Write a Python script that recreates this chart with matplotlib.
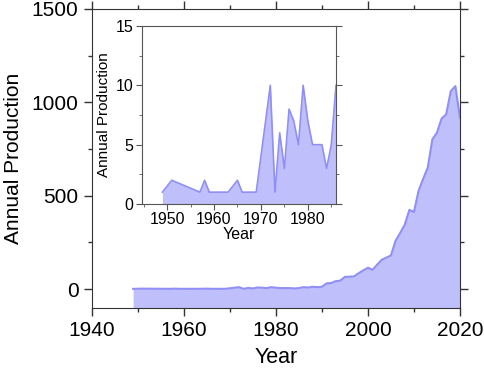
import matplotlib
matplotlib.use("Agg")
from matplotlib import pyplot as plt
from matplotlib.ticker import MultipleLocator

plt.rcParams['font.family'] = ['Liberation Sans', 'DejaVu Sans']

# yearly production, 1949-1986 (shown in the inset too)
early_years = [1949, 1951, 1957, 1958, 1959, 1963, 1965, 1966, 1969, 1972, 1973,
               1974, 1975, 1976, 1977, 1978, 1979, 1980, 1981, 1983, 1984, 1985, 1986]
early_prod = [1, 2, 1, 2, 1, 1, 2, 1, 1, 10, 1,
              6, 3, 8, 7, 5, 10, 7, 5, 5, 3, 5, 10]

# 1987-2020
late_years = list(range(1987, 2021))
late_prod = [8, 12, 10, 12, 30, 32, 42, 45, 65, 66, 68, 85, 100, 114, 103, 130,
             157, 168, 180, 258, 300, 345, 424, 413, 526, 590, 651, 802, 838,
             913, 936, 1060, 1087, 918]

years = early_years + late_years
prod = early_prod + late_prod

fill_col = '#bfbffb'
line_col = '#8f8ff5'

fig = plt.figure(figsize=(4.84, 3.70), dpi=100)
ax = fig.add_axes([0.1895, 0.1684, 0.7609, 0.8073])
ax.fill_between(years, prod, -100, color=fill_col, lw=0)
ax.plot(years, prod, color=line_col, lw=1.5)
ax.set_xlim(1940, 2020)
ax.set_ylim(-100, 1500)
ax.xaxis.set_major_locator(MultipleLocator(20))
ax.xaxis.set_minor_locator(MultipleLocator(10))
ax.yaxis.set_major_locator(MultipleLocator(500))
ax.yaxis.set_minor_locator(MultipleLocator(250))
ax.tick_params(which='both', direction='out', labelsize=15, color='#333333')
ax.tick_params(which='major', length=6, width=1)
ax.tick_params(which='minor', length=3, width=1)
ax.tick_params(which='both', top=True, right=True)
for s in ax.spines.values():
    s.set_color('#333333')
ax.set_xlabel('Year', fontsize=15.5, labelpad=5)
ax.set_ylabel('Annual Production', fontsize=15, labelpad=6)

# inset
ins = fig.add_axes([0.2928, 0.4486, 0.4014, 0.4811])
ins.fill_between(early_years, early_prod, 0, color=fill_col, lw=0)
ins.plot(early_years, early_prod, color=line_col, lw=1.2)
ins.set_xlim(1944.6, 1986)
ins.set_ylim(0, 15)
ins.xaxis.set_major_locator(MultipleLocator(10))
ins.xaxis.set_minor_locator(MultipleLocator(5))
ins.yaxis.set_major_locator(MultipleLocator(5))
ins.yaxis.set_minor_locator(MultipleLocator(2.5))
ins.tick_params(which='both', direction='out', labelsize=11.5, color='#555555', pad=2)
ins.tick_params(which='major', length=4)
ins.tick_params(which='minor', length=2)
ins.tick_params(which='both', right=True)
for s in ins.spines.values():
    s.set_color('#555555')
ins.set_xlabel('Year', fontsize=11.5, labelpad=0)
ins.set_ylabel('Annual Production', fontsize=11, labelpad=3)

fig.savefig('out.png', dpi=100)
